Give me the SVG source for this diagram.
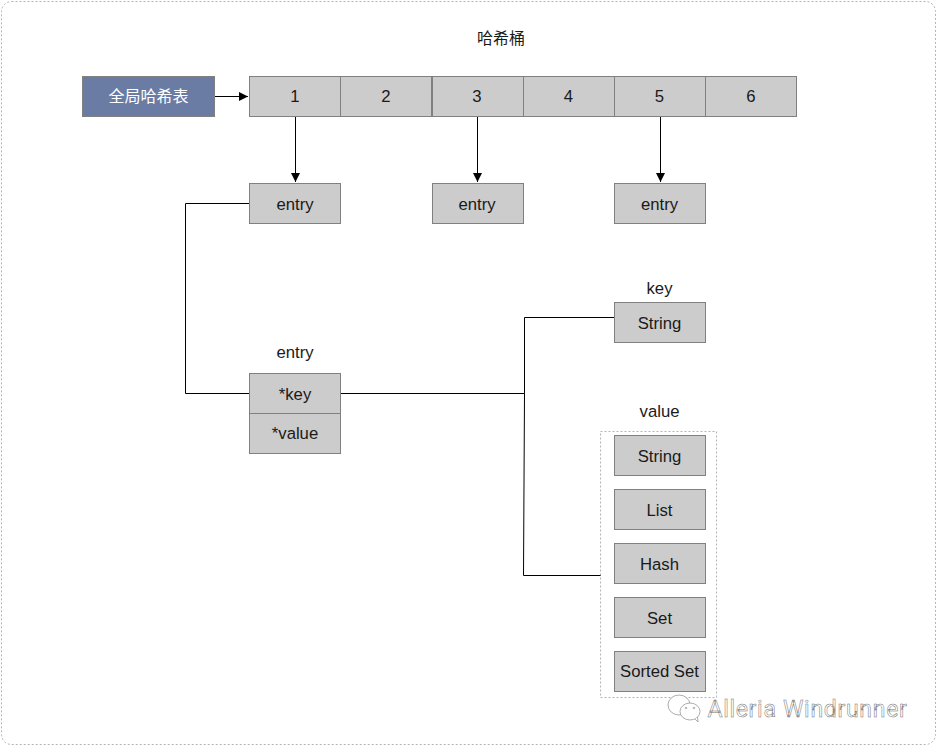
<svg xmlns="http://www.w3.org/2000/svg" width="938" height="747" viewBox="0 0 938 747">
<defs>
<style>
text{font-family:"Liberation Sans","Noto Sans CJK SC",sans-serif;font-size:16.700px;fill:#1a1a1a;text-anchor:middle}
.z{font-size:16px}
.b{fill:#cccccc;stroke:#808080;stroke-width:1}
.c{fill:none;stroke:#000;stroke-width:1}
.d{fill:none;stroke:#b3b3b3;stroke-width:1;stroke-dasharray:2 2}
</style>
<marker id="arr" markerUnits="userSpaceOnUse" markerWidth="10" markerHeight="9" refX="9" refY="4.5" orient="auto"><path d="M0 0L9 4.5L0 9Z" fill="#000"/></marker>
</defs>
<rect width="938" height="747" fill="#fff"/>
<rect class="d" x="1.500" y="1.500" width="934" height="743" rx="10"/>
<text class="z" x="501" y="44">哈希桶</text>
<g id="connectors">
<path class="c" d="M214.500 96.500H248" marker-end="url(#arr)"/>
<path class="c" d="M295.500 116.500V182" marker-end="url(#arr)"/>
<path class="c" d="M477.500 116.500V182" marker-end="url(#arr)"/>
<path class="c" d="M660.500 116.500V182" marker-end="url(#arr)"/>
<path class="c" d="M249.500 203.500H185.500V393.500H249.500"/>
<path class="c" d="M340.500 393.500H524.500"/>
<path class="c" d="M614.500 317.500H524.500V393.500L523.500 575.500H601"/>
</g>
<g id="global"><rect x="82.500" y="76.500" width="132" height="40" fill="#6a7ca3" stroke="#808080"/><text class="z" x="148.500" y="102" style="fill:#fff">全局哈希表</text></g>
<g id="b1"><rect class="b" x="249.500" y="76.500" width="91" height="40"/><text x="295" y="102">1</text></g>
<g id="b2"><rect class="b" x="340.500" y="76.500" width="91" height="40"/><text x="386" y="102">2</text></g>
<g id="b3"><rect class="b" x="432.500" y="76.500" width="91" height="40"/><text x="477" y="102">3</text></g>
<g id="b4"><rect class="b" x="523.500" y="76.500" width="91" height="40"/><text x="568.500" y="102">4</text></g>
<g id="b5"><rect class="b" x="614.500" y="76.500" width="91" height="40"/><text x="659.500" y="102">5</text></g>
<g id="b6"><rect class="b" x="705.500" y="76.500" width="91" height="40"/><text x="751" y="102">6</text></g>
<g id="e1"><rect class="b" x="249.500" y="183.500" width="91" height="40"/><text x="295" y="210">entry</text></g>
<g id="e2"><rect class="b" x="432.500" y="183.500" width="91" height="40"/><text x="477" y="210">entry</text></g>
<g id="e3"><rect class="b" x="614.500" y="183.500" width="91" height="40"/><text x="659.500" y="210">entry</text></g>
<g id="entry"><text x="295" y="358">entry</text><rect class="b" x="249.500" y="373.500" width="91" height="40"/><text x="295" y="400">*key</text><rect class="b" x="249.500" y="413.500" width="91" height="40"/><text x="295" y="439">*value</text></g>
<g id="key"><text x="659.500" y="294">key</text><rect class="b" x="614.500" y="302.500" width="91" height="40"/><text x="659.500" y="329">String</text></g>
<g id="value"><text x="659.500" y="417">value</text><rect class="d" x="600.500" y="431.500" width="116" height="266"/>
<rect class="b" x="614.500" y="435.500" width="91" height="40"/><text x="659.500" y="462">String</text>
<rect class="b" x="614.500" y="489.500" width="91" height="40"/><text x="659.500" y="516">List</text>
<rect class="b" x="614.500" y="543.500" width="91" height="40"/><text x="659.500" y="570">Hash</text>
<rect class="b" x="614.500" y="597.500" width="91" height="40"/><text x="659.500" y="624">Set</text>
<rect class="b" x="614.500" y="651.500" width="91" height="40"/><text x="659.500" y="677">Sorted Set</text></g>
<g id="watermark" fill="#fff" stroke="#8a8a8a" stroke-width="0.7" opacity="0.99">
<ellipse cx="679" cy="705" rx="11" ry="10"/><ellipse cx="690" cy="711.500" rx="10" ry="8.500"/>
<path d="M695 719l3 3-0.500-5"/><circle cx="686" cy="708" r="0.800"/><circle cx="694" cy="708" r="0.800"/>
<text x="807.500" y="717" style="font-family:Roboto,'Liberation Sans',sans-serif;font-size:23px;fill:#fff;stroke:#707070;stroke-width:0.5;letter-spacing:0.7px">Alleria Windrunner</text>
</g>
</svg>
